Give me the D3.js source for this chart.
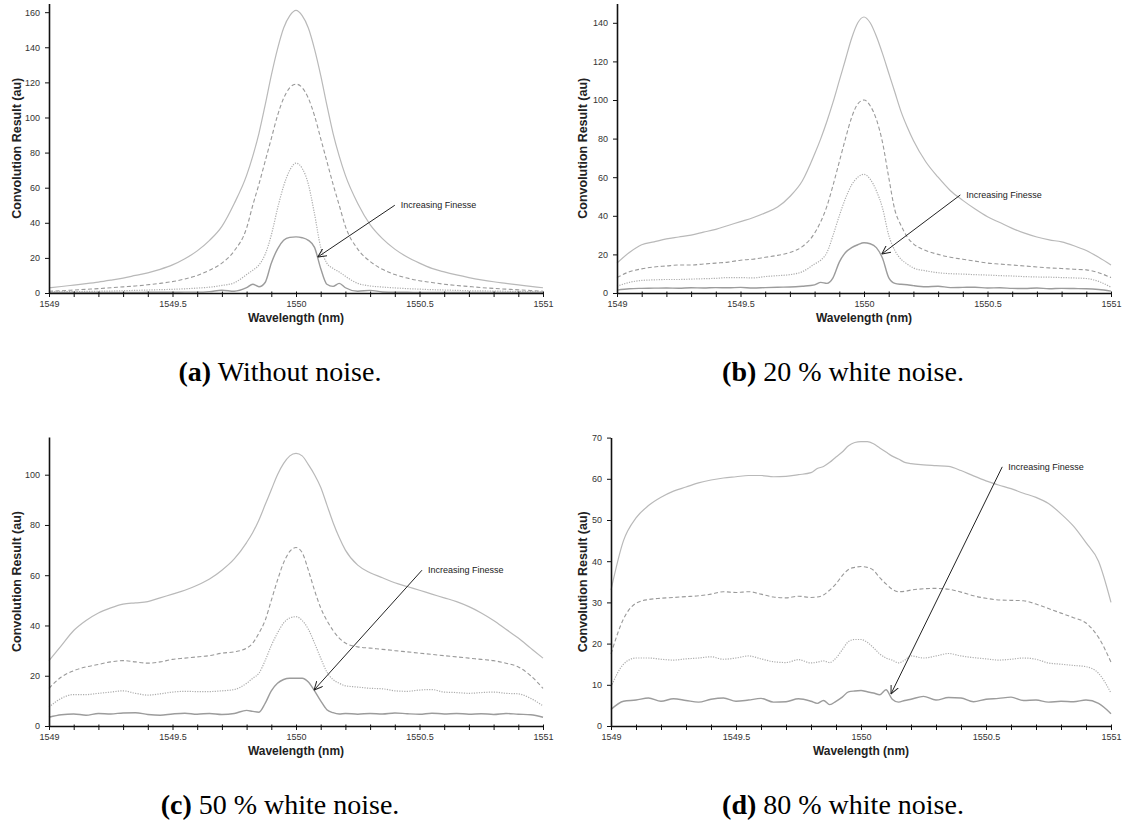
<!DOCTYPE html>
<html>
<head>
<meta charset="utf-8">
<script src="https://cdn.jsdelivr.net/npm/d3@7"></script>
<style>
  body { margin: 0; background: #fff; }
  svg text { font-family: "Liberation Sans", Arial, sans-serif; }
</style>
</head>
<body>
<div id="chart"></div>
<script>
// wavelength grid (nm), denser around the peak
const wavelengths = [1549, 1549.05, 1549.1, 1549.15, 1549.2, 1549.25, 1549.3, 1549.35, 1549.4, 1549.45,
  1549.5, 1549.55, 1549.6, 1549.65, 1549.7, 1549.75, 1549.8, 1549.825, 1549.85, 1549.875,
  1549.9, 1549.925, 1549.95, 1549.975, 1550, 1550.025, 1550.05, 1550.075, 1550.1, 1550.125,
  1550.15, 1550.175, 1550.2, 1550.25, 1550.3, 1550.35, 1550.4, 1550.45, 1550.5, 1550.55,
  1550.6, 1550.65, 1550.7, 1550.75, 1550.8, 1550.85, 1550.9, 1550.95, 1551]

const xTicks = [1549, 1549.5, 1550, 1550.5, 1551]
const xTickLabels = ["1549", "1549.5", "1550", "1550.5", "1551"]
const xMinorTicks = [1549.1, 1549.2, 1549.3, 1549.4, 1549.6, 1549.7, 1549.8, 1549.9,
  1550.1, 1550.2, 1550.3, 1550.4, 1550.6, 1550.7, 1550.8, 1550.9]

// (a) without noise
const a1 = [3, 3.7, 4.5, 5.3, 6.2, 7.3, 8.5, 10, 11.5, 13.5, 16, 19.5, 24, 30, 38, 51, 67, 78, 91, 107, 124, 139, 151, 158,
  161, 158, 151, 139, 124, 107, 91, 78, 67, 51, 39, 31, 25, 20.5, 17, 14, 12, 10.3, 8.8, 7.5, 6.4, 5.5, 4.6, 3.8, 3]
const a2 = [1, 1.3, 1.7, 2.1, 2.5, 3, 3.5, 4, 4.7, 5.5, 6.5, 8, 10, 13, 17, 24, 37, 50, 62, 75, 88, 101, 111, 117,
  119, 117, 111, 101, 88, 75, 62, 50, 38, 25, 18, 13.5, 10.5, 8.5, 7, 6, 5, 4.3, 3.7, 3.1, 2.6, 2.2, 1.8, 1.4, 1]
const a3 = [0.6, 0.7, 0.8, 0.9, 1, 1.1, 1.3, 1.5, 1.7, 1.9, 2.1, 2.4, 2.8, 3.3, 4.3, 5.8, 10.5, 13, 16, 22, 33, 48, 61, 70,
  74, 71, 62, 45, 26, 17, 14, 12, 9.5, 5.5, 4, 3.4, 2.9, 2.5, 2.2, 1.9, 1.7, 1.5, 1.3, 1.2, 1.1, 1, 0.9, 0.8, 0.7]
const a4 = [0.3, 0.3, 0.3, 0.3, 0.3, 0.3, 0.3, 0.3, 0.4, 0.4, 0.4, 0.5, 0.5, 0.8, 1.6, 1, 3, 5, 3.6, 6, 17, 25, 30, 31.7,
  32, 31.5, 30, 26, 14, 5, 3.8, 5.5, 3, 1, 1.5, 0.6, 0.4, 0.4, 0.3, 0.3, 0.3, 0.3, 0.3, 0.3, 0.3, 0.3, 0.3, 0.3, 0.3]

// (b) 20 % white noise
const b1 = [15.5, 21, 25, 26.5, 28, 29, 30, 31.5, 33, 35, 37, 39, 41.5, 44.5, 50, 58, 72, 80, 89, 99, 110, 121, 132, 140,
  143, 140, 133, 124, 114, 104, 94, 86, 79, 68, 60, 53, 48, 43.5, 39.5, 36.5, 33.5, 31, 29, 27.5, 26.5, 24.5, 22, 18.5, 14.5]
const b2 = [8, 11, 12.5, 13.5, 14, 14.5, 14.5, 15, 15.5, 16, 17, 17.5, 18.5, 19.5, 21, 24, 31, 37, 45, 56, 68, 80, 91, 98,
  100, 97, 90, 78, 60, 43, 35, 29, 25.5, 22, 20, 18.5, 17.5, 16.5, 15.5, 15, 14.5, 14, 13.5, 13, 12.7, 12.3, 12, 10.5, 8]
const b3 = [3.5, 5.5, 6.5, 6.8, 7, 7, 7.2, 7.4, 7.6, 8, 8, 7.8, 8.5, 9, 9.5, 11, 15, 17, 21, 30, 40, 49, 56, 60,
  61.5, 59, 53, 44, 30, 22, 17.5, 15, 13, 11.5, 10.5, 10, 9.8, 9.5, 9.3, 9, 8.8, 8.5, 8.3, 8.2, 8, 7.8, 7.5, 6, 3]
const b4 = [1.5, 2.2, 2.4, 2.5, 2.6, 2.5, 2.7, 2.6, 2.8, 2.7, 2.9, 2.6, 2.8, 3, 3.1, 3.5, 4.2, 5.5, 5, 8, 16, 21, 23.5, 25,
  26, 25.5, 23.5, 18, 8, 5, 4.5, 4.3, 3.8, 3.2, 3.5, 2.8, 2.9, 3, 2.6, 2.7, 2.4, 2.3, 2.6, 2.2, 2.4, 2.3, 2.2, 1.8, 1]

// (c) 50 % white noise
const c1 = [26, 32, 38, 42, 45, 47, 48.5, 49, 49.5, 51, 52.5, 54, 56, 58.5, 62, 66.5, 73, 77, 82, 88, 94, 100, 104.5, 107.5,
  108.5, 107.5, 104, 100, 95, 88, 81, 75, 70, 64, 61, 59, 57, 55.5, 54, 52.5, 51, 49.5, 47.5, 45, 42, 38.5, 35, 31, 27]
const c2 = [15, 19.5, 22, 23.5, 24.5, 25.5, 26, 25.5, 25, 25.5, 26.5, 27, 27.5, 28, 29, 29.5, 31, 33, 37, 42, 50, 58, 65, 69.5,
  71, 69, 62, 54, 47, 42, 38, 35, 33, 31.5, 31, 30.5, 30, 29.5, 29, 28.5, 28, 27.5, 27, 26.5, 26, 25, 23.5, 20, 15]
const c3 = [7.5, 11, 12.5, 12.5, 13, 13.5, 14, 13, 12.3, 12.8, 13.5, 13.8, 13.7, 13.7, 14, 14.5, 17, 19, 21, 26, 32, 37, 41, 43,
  43.5, 42, 38.5, 33, 27, 21.5, 18.5, 17, 16, 15.5, 15, 14.8, 14, 13.8, 14.3, 14.5, 13.5, 13.3, 13, 13.3, 13.5, 13, 12.8, 11, 8]
const c4 = [3.5, 4.5, 4.8, 4.3, 5, 4.8, 5.2, 5.3, 4.6, 4.3, 4.8, 5.1, 4.7, 5, 4.6, 5, 6.2, 5.8, 5.5, 9, 14, 17, 18.5, 19,
  19, 19, 17.5, 14, 10, 6.5, 5.3, 4.8, 5, 4.7, 5, 4.8, 5.2, 4.9, 4.7, 5.1, 4.8, 5, 4.7, 4.9, 4.6, 5, 4.7, 4.5, 3.5]

// (d) 80 % white noise
const d1 = [33, 45, 50.5, 53.5, 55.5, 57, 58, 59, 59.7, 60.2, 60.5, 60.8, 60.8, 60.5, 60.6, 61, 61.5, 62.5, 63, 64, 65.3, 66.5, 68, 68.8,
  69, 69, 68.5, 67.5, 66.5, 65.5, 64.8, 64, 63.7, 63.4, 63.2, 63, 62, 60.7, 59.5, 58.5, 57.6, 56.5, 55.5, 54, 51.5, 48.5, 44.5, 40, 30]
const d2 = [17.5, 26, 29.8, 30.7, 31, 31.2, 31.4, 31.6, 32, 32.6, 32.4, 32.6, 32, 31.3, 31.1, 31.5, 31.2, 31.3, 31.8, 33, 34.5, 36.5, 38, 38.5,
  38.7, 38.5, 37.8, 36, 34.5, 33.2, 32.6, 32.7, 33, 33.3, 33.4, 33.2, 32.5, 31.6, 31, 30.6, 30.5, 30.4, 29.6, 28.5, 27.4, 26.3, 25, 21.5, 15.5]
const d3s = [9.5, 15, 16.5, 16.5, 16.2, 16, 16.3, 16.5, 16.8, 16.2, 16.5, 17, 16.3, 15.6, 15.4, 16.1, 15.3, 15.5, 15.8, 15.4, 16.5, 18.5, 20.5, 21,
  21, 20.3, 19, 17.5, 16.5, 16, 15.3, 16, 17, 16.5, 17, 17.6, 17, 16.6, 16.3, 16, 16.2, 16.5, 16.2, 15.3, 15, 14.7, 14.4, 12.8, 8]
const d4 = [4, 6, 6.3, 6.8, 6, 6.6, 6.2, 5.8, 6.5, 6.8, 6, 6.3, 6.7, 5.8, 5.9, 6.6, 6, 5.5, 6.2, 5.2, 6, 7, 8.3, 8.5,
  8.6, 8.3, 8, 7.6, 8.8, 6.5, 5.8, 6.2, 6.5, 7.2, 6.3, 6.9, 6.8, 5.9, 6.5, 6.7, 7, 6.2, 6.3, 5.8, 6, 5.9, 6.3, 5.5, 3]

const yTicksA = [0, 20, 40, 60, 80, 100, 120, 140, 160]
const yTicksB = [0, 20, 40, 60, 80, 100, 120, 140]
const yTicksC = [0, 20, 40, 60, 80, 100]
const yTicksD = [0, 10, 20, 30, 40, 50, 60, 70]

const captionTags = ["(a)", "(b)", "(c)", "(d)"]
const captionTexts = [" Without noise.", " 20 % white noise.", " 50 % white noise.", " 80 % white noise."]

// arrow "Increasing Finesse": [tail wavelength, tail value, tip wavelength, tip value]
const arrowsData = [
  [1550.40, 50, 1550.088, 20.5],
  [1550.39, 50.8, 1550.072, 20.2],
  [1550.51, 62, 1550.073, 14.3],
  [1550.565, 62.9, 1550.12, 7.8]
]

const width = 1132
const height = 823

// Plot boxes of the four sub-figures
const panels = [
  { series: [a1, a2, a3, a4], yMax: 165, yTicks: yTicksA, left: 49, right: 543, top: 3.4, bottom: 293, titleX: 17, capX: 280, capY: 381 },
  { series: [b1, b2, b3, b4], yMax: 150, yTicks: yTicksB, left: 617, right: 1111, top: 3.5, bottom: 293, titleX: 583, capX: 843, capY: 381 },
  { series: [c1, c2, c3, c4], yMax: 115, yTicks: yTicksC, left: 49, right: 543, top: 437, bottom: 726, titleX: 17, capX: 280, capY: 814 },
  { series: [d1, d2, d3s, d4], yMax: 70, yTicks: yTicksD, left: 611, right: 1111, top: 437.6, bottom: 726, titleX: 583, capX: 843, capY: 814 }
]

// high finesse curves go from light solid to dashed, dotted and darker solid
const lineStyles = [
  { stroke: "#b9b9b9", dash: null, width: 1.2 },
  { stroke: "#9a9a9a", dash: "4,2.5", width: 1.1 },
  { stroke: "#adadad", dash: "1.2,1.3", width: 1.2 },
  { stroke: "#9c9c9c", dash: null, width: 1.4 }
]

const svg = d3.select("#chart")
  .append("svg")
  .attr("width", width)
  .attr("height", height)
  .style("background", "#fff")

svg.append("defs").append("marker")
  .attr("id", "openArrow")
  .attr("viewBox", "0 0 10 10")
  .attr("refX", 9.5)
  .attr("refY", 5)
  .attr("markerWidth", 9)
  .attr("markerHeight", 9)
  .attr("markerUnits", "userSpaceOnUse")
  .attr("orient", "auto")
  .append("path")
  .attr("d", "M0,0.5 L9.5,5 L0,9.5")
  .attr("fill", "none")
  .attr("stroke", "#222")
  .attr("stroke-width", 1.1)

panels.forEach((p, i) => {
  const g = svg.append("g")

  const x = d3.scaleLinear()
    .domain([1549, 1551])
    .range([p.left, p.right])

  const y = d3.scaleLinear()
    .domain([0, p.yMax])
    .range([p.bottom, p.top])

  const line = d3.line()
    .x((d, k) => x(wavelengths[k]))
    .y(d => y(d))
    .curve(d3.curveMonotoneX)

  // curves
  g.selectAll("path.curve")
    .data(p.series)
    .join("path")
    .attr("class", "curve")
    .attr("d", d => line(d))
    .attr("fill", "none")
    .attr("stroke", (d, k) => lineStyles[k].stroke)
    .attr("stroke-width", (d, k) => lineStyles[k].width)
    .attr("stroke-dasharray", (d, k) => lineStyles[k].dash)

  // x axis (major + minor ticks)
  const xAxis = g.append("g")
    .attr("transform", `translate(0,${p.bottom})`)
    .call(d3.axisBottom(x).tickValues(xTicks).tickFormat((d, k) => xTickLabels[k]).tickSize(4).tickPadding(4).tickSizeOuter(0))
  xAxis.selectAll(".tick line").attr("y1", -1.5)

  const xMinor = g.append("g")
    .attr("transform", `translate(0,${p.bottom})`)
    .call(d3.axisBottom(x).tickValues(xMinorTicks).tickFormat("").tickSize(4).tickSizeOuter(0))
  xMinor.select(".domain").remove()
  xMinor.selectAll(".tick line").attr("y1", -1.5)

  // y axis
  g.append("g")
    .attr("transform", `translate(${p.left},0)`)
    .call(d3.axisLeft(y).tickValues(p.yTicks).tickSize(4).tickPadding(5).tickSizeOuter(0))

  g.selectAll(".domain").attr("stroke", "#111").attr("stroke-width", 1.6)
  g.selectAll(".tick line").attr("stroke", "#111").attr("stroke-width", 1)
  g.selectAll(".tick text").attr("font-size", 9).attr("fill", "#333")
    .attr("font-family", "'Liberation Sans', Arial, sans-serif")

  // axis titles
  g.append("text")
    .attr("x", x(1550))
    .attr("y", p.bottom + 29)
    .attr("text-anchor", "middle")
    .attr("font-size", 12)
    .attr("font-weight", "bold")
    .attr("fill", "#222")
    .text("Wavelength (nm)")

  g.append("text")
    .attr("transform", `translate(${p.titleX},${(p.top + p.bottom) / 2}) rotate(-90)`)
    .attr("text-anchor", "middle")
    .attr("dy", "0.35em")
    .attr("font-size", 12.5)
    .attr("font-weight", "bold")
    .attr("fill", "#222")
    .text("Convolution Result (au)")

  // annotation arrow
  const ar = arrowsData[i]
  g.append("line")
    .attr("x1", x(ar[0]))
    .attr("y1", y(ar[1]))
    .attr("x2", x(ar[2]))
    .attr("y2", y(ar[3]))
    .attr("stroke", "#222")
    .attr("stroke-width", 1)
    .attr("marker-end", "url(#openArrow)")

  g.append("text")
    .attr("x", x(ar[0]) + 6)
    .attr("y", y(ar[1]))
    .attr("dy", "0.35em")
    .attr("font-size", 9)
    .attr("fill", "#222")
    .text("Increasing Finesse")

  // caption
  const cap = svg.append("text")
    .attr("x", p.capX)
    .attr("y", p.capY)
    .attr("text-anchor", "middle")
    .attr("font-size", 28)
    .style("font-family", "'Liberation Serif', 'Times New Roman', serif")
    .attr("fill", "#000")
  cap.append("tspan").attr("font-weight", "bold").text(captionTags[i])
  cap.append("tspan").text(captionTexts[i])
})
</script>
</body>
</html>
